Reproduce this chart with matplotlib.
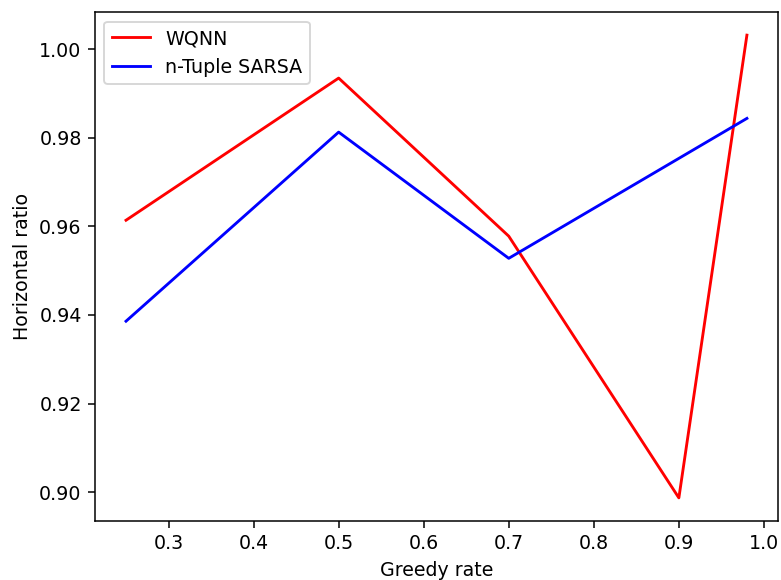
import matplotlib
matplotlib.use('Agg')
import matplotlib.pyplot as plt

# greedy rates tested
greedy = [0.25, 0.5, 0.7, 0.9, 0.98]

# horizontal ratio per method
wqnn = [0.9614, 0.9935, 0.9578, 0.8987, 1.0032]
sarsa_greedy = [0.25, 0.5, 0.7, 0.98]
sarsa = [0.9386, 0.9813, 0.9528, 0.9844]

DPI = 137
fig = plt.figure(figsize=(781 / DPI, 580 / DPI), dpi=DPI)
ax = fig.add_axes([0.1216, 0.1017, 0.8745, 0.8776])
ax.plot(greedy, wqnn, color='red', label='WQNN')
ax.plot(sarsa_greedy, sarsa, color='blue', label='n-Tuple SARSA')
ax.set_xlabel('Greedy rate')
ax.set_ylabel('Horizontal ratio')
ax.legend(loc='upper left')

fig.savefig('out.png', dpi=DPI)
